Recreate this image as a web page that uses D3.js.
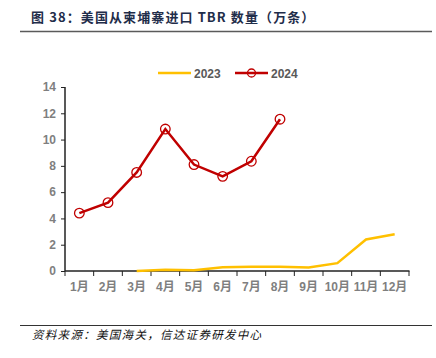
<!DOCTYPE html>
<html><head><meta charset="utf-8">
<script src="https://cdn.jsdelivr.net/npm/d3@7"></script>
<style>body{margin:0;background:#fff;}svg{display:block;}</style>
</head><body>
<script>
const months = ["1月","2月","3月","4月","5月","6月","7月","8月","9月","10月","11月","12月"];
const series2023 = [null,null,0.0,0.1,0.05,0.28,0.33,0.33,0.27,0.6,2.4,2.8];
const series2024 = [4.4,5.2,7.5,10.8,8.1,7.2,8.35,11.55,null,null,null,null];
const yTicks = [0,2,4,6,8,10,12,14];
const seriesNames = ["2023","2024"];

const W=436,H=358;
const svg=d3.select("body").append("svg").attr("width",W).attr("height",H);
const font="Liberation Sans, Arial, 'Noto Sans CJK SC', sans-serif";

svg.append("text").attr("x",31).attr("y",22)
  .attr("font-family","'Noto Sans CJK SC', sans-serif").attr("font-weight","bold")
  .attr("font-size",13).attr("letter-spacing",1.1).attr("fill","#1f2d4a")
  .text("图 38：美国从柬埔寨进口 TBR 数量（万条）");
svg.append("line").attr("x1",20).attr("x2",432).attr("y1",31.5).attr("y2",31.5)
  .attr("stroke","#5a5a5a").attr("stroke-width",1.5);
svg.append("line").attr("x1",20).attr("x2",432).attr("y1",325.5).attr("y2",325.5)
  .attr("stroke","#333").attr("stroke-width",1);
svg.append("text").attr("x",32).attr("y",339)
  .attr("font-family","'Noto Sans CJK SC', sans-serif").attr("font-style","italic")
  .attr("font-size",11.5).attr("letter-spacing",1.3).attr("fill","#111")
  .text("资料来源：美国海关，信达证券研发中心");

const x=d3.scaleBand().domain(months).range([65,409]).padding(0);
const y=d3.scaleLinear().domain([0,14]).range([271,87]);

const xAxis=svg.append("g").attr("transform","translate(0,271)")
  .call(d3.axisBottom(x).tickSize(0).tickPadding(0));
xAxis.select(".domain").remove();
xAxis.selectAll("text").attr("dy",null).attr("y",20).attr("font-family",font)
  .attr("font-size",12).attr("font-weight","bold").attr("fill","#7f7f7f");
const bounds=months.map(m=>x(m)).concat([x.range()[1]]);
svg.append("g").selectAll("line").data(bounds).join("line")
  .attr("x1",d=>d).attr("x2",d=>d).attr("y1",271).attr("y2",276)
  .attr("stroke","#222").attr("stroke-width",1);

const yAxis=svg.append("g").attr("transform","translate(65,0)")
  .call(d3.axisLeft(y).tickValues(yTicks).tickSize(4).tickPadding(5));
yAxis.select(".domain").remove();
yAxis.selectAll(".tick line").attr("stroke","#222");
yAxis.selectAll("text").attr("font-family",font).attr("font-size",12)
  .attr("font-weight","bold").attr("fill","#7f7f7f");

svg.append("line").attr("x1",65).attr("x2",65).attr("y1",87).attr("y2",271)
  .attr("stroke","#222").attr("stroke-width",1.5);
svg.append("line").attr("x1",65).attr("x2",409.5).attr("y1",271).attr("y2",271)
  .attr("stroke","#222").attr("stroke-width",1.5);

const cx=m=>x(m)+x.bandwidth()/2;
const line=d3.line().defined(d=>d.v!=null).x(d=>cx(d.m)).y(d=>y(d.v));
const d23=months.map((m,i)=>({m,v:series2023[i]}));
const d24=months.map((m,i)=>({m,v:series2024[i]}));
svg.append("path").attr("d",line(d23)).attr("fill","none").attr("stroke","#ffc000").attr("stroke-width",2.5);
svg.append("path").attr("d",line(d24)).attr("fill","none").attr("stroke","#c00000").attr("stroke-width",2.5);
svg.append("g").selectAll("circle").data(d24.filter(d=>d.v!=null)).join("circle")
  .attr("cx",d=>cx(d.m)).attr("cy",d=>y(d.v)).attr("r",4.8)
  .attr("fill","none").attr("stroke","#c00000").attr("stroke-width",1.3);

const lg=svg.append("g");
lg.append("line").attr("x1",158).attr("x2",191).attr("y1",73).attr("y2",73).attr("stroke","#ffc000").attr("stroke-width",2.5);
lg.append("text").attr("x",194).attr("y",77.5).text(seriesNames[0]).attr("font-family",font).attr("font-size",12).attr("font-weight","bold").attr("fill","#595959");
lg.append("line").attr("x1",235).attr("x2",268).attr("y1",73).attr("y2",73).attr("stroke","#c00000").attr("stroke-width",2.5);
lg.append("circle").attr("cx",251.5).attr("cy",73).attr("r",4).attr("fill","none").attr("stroke","#c00000").attr("stroke-width",1.3);
lg.append("text").attr("x",271).attr("y",77.5).text(seriesNames[1]).attr("font-family",font).attr("font-size",12).attr("font-weight","bold").attr("fill","#595959");
</script>
</body></html>
